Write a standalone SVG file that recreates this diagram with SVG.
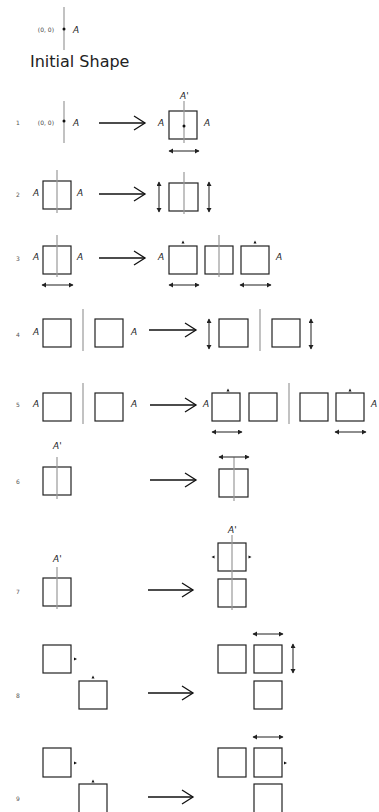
<svg xmlns="http://www.w3.org/2000/svg" width="379" height="812" viewBox="0 0 379 812">
<style>
text{font-family:"DejaVu Sans","Verdana",sans-serif;fill:#222}
.a{font-size:9px;font-style:italic}
.n{font-size:6px;fill:#555}
.o{font-size:6px;fill:#444;text-anchor:end}
.t{font-size:16px}
.sq{fill:none;stroke:#222;stroke-width:1.2}
.ax{stroke:#999;stroke-width:1.2}
.ar{stroke:#111;stroke-width:1.5;fill:none;marker-end:url(#chev)}
.da{stroke:#444;stroke-width:1.2;marker-start:url(#tip);marker-end:url(#tip)}
.tr{fill:#111}
</style>
<defs>
<marker id="chev" markerUnits="userSpaceOnUse" markerWidth="14" markerHeight="18" refX="12" refY="8" orient="auto">
<path d="M1,1 L12,8 L1,15" fill="none" stroke="#111" stroke-width="1.3"/>
</marker>
<marker id="tip" markerUnits="userSpaceOnUse" markerWidth="6" markerHeight="6" refX="4" refY="2.5" orient="auto-start-reverse">
<path d="M0,0 L4.5,2.5 L0,5 Z" fill="#222"/>
</marker>
</defs>

<g id="initial">
<line class="ax" x1="64" y1="7" x2="64" y2="50"/>
<circle cx="64" cy="29" r="1.5" fill="#111"/>
<text class="o" x="54" y="32">(0, 0)</text>
<text class="a" x="73" y="33">A</text>
<text class="t" x="30" y="67">Initial Shape</text>
</g>

<g id="row1">
<text class="n" x="16" y="125">1</text>
<text class="o" x="54" y="125">(0, 0)</text>
<line class="ax" x1="64" y1="101" x2="64" y2="143"/>
<circle cx="64" cy="121" r="1.5" fill="#111"/>
<text class="a" x="73" y="126">A</text>
<text class="a" x="158" y="126">A</text>
<rect class="sq" x="169" y="111" width="28" height="28"/>
<line class="ax" x1="184" y1="101" x2="184" y2="143"/>
<circle cx="184" cy="126" r="1.5" fill="#111"/>
<text class="a" x="204" y="126">A</text>
<text class="a" x="180" y="99">A'</text>
</g>

<g id="row2">
<text class="n" x="16" y="197">2</text>
<text class="a" x="33" y="196">A</text>
<rect class="sq" x="43" y="181" width="28" height="28"/>
<line class="ax" x1="57" y1="170" x2="57" y2="213"/>
<text class="a" x="77" y="196">A</text>
<rect class="sq" x="169" y="183" width="29" height="28"/>
<line class="ax" x1="184" y1="172" x2="184" y2="214"/>
</g>

<g id="row3">
<text class="n" x="16" y="261">3</text>
<text class="a" x="33" y="260">A</text>
<rect class="sq" x="43" y="246" width="28" height="28"/>
<line class="ax" x1="57" y1="235" x2="57" y2="277"/>
<text class="a" x="77" y="260">A</text>
<text class="a" x="158" y="260">A</text>
<rect class="sq" x="169" y="246" width="28" height="28"/>
<rect class="sq" x="205" y="246" width="28" height="28"/>
<rect class="sq" x="241" y="246" width="28" height="28"/>
<line class="ax" x1="219" y1="235" x2="219" y2="277"/>
<polygon class="tr" points="181.5,243.5 183,240.5 184.5,243.5"/>
<polygon class="tr" points="253.5,243.5 255,240.5 256.5,243.5"/>
<text class="a" x="276" y="260">A</text>
</g>

<g id="row4">
<text class="n" x="16" y="337">4</text>
<text class="a" x="33" y="335">A</text>
<rect class="sq" x="43" y="319" width="28" height="28"/>
<line class="ax" x1="83" y1="309" x2="83" y2="351"/>
<rect class="sq" x="95" y="319" width="28" height="28"/>
<text class="a" x="131" y="335">A</text>
<rect class="sq" x="219" y="319" width="29" height="28"/>
<line class="ax" x1="260" y1="309" x2="260" y2="351"/>
<rect class="sq" x="272" y="319" width="28" height="28"/>
</g>

<g id="row5">
<text class="n" x="16" y="407">5</text>
<text class="a" x="33" y="407">A</text>
<rect class="sq" x="43" y="393" width="28" height="28"/>
<line class="ax" x1="83" y1="383" x2="83" y2="424"/>
<rect class="sq" x="95" y="393" width="28" height="28"/>
<text class="a" x="131" y="407">A</text>
<text class="a" x="203" y="407">A</text>
<rect class="sq" x="212" y="393" width="28" height="28"/>
<polygon class="tr" points="226.5,391.5 228,388.5 229.5,391.5"/>
<rect class="sq" x="249" y="393" width="28" height="28"/>
<line class="ax" x1="289" y1="383" x2="289" y2="424"/>
<rect class="sq" x="300" y="393" width="28" height="28"/>
<rect class="sq" x="336" y="393" width="28" height="28"/>
<polygon class="tr" points="348.5,391.5 350,388.5 351.5,391.5"/>
<text class="a" x="371" y="407">A</text>
</g>

<g id="row6">
<text class="a" x="53" y="449">A'</text>
<text class="n" x="16" y="484">6</text>
<rect class="sq" x="43" y="467" width="28" height="28"/>
<line class="ax" x1="57" y1="457" x2="57" y2="499"/>
<rect class="sq" x="219" y="469" width="29" height="28"/>
<line class="ax" x1="234" y1="457" x2="234" y2="501"/>
</g>

<g id="row7">
<text class="a" x="53" y="562">A'</text>
<text class="n" x="16" y="594">7</text>
<rect class="sq" x="43" y="578" width="28" height="28"/>
<line class="ax" x1="57" y1="567" x2="57" y2="609"/>
<text class="a" x="228" y="533">A'</text>
<rect class="sq" x="218" y="543" width="28" height="28"/>
<rect class="sq" x="218" y="579" width="28" height="28"/>
<line class="ax" x1="232" y1="535" x2="232" y2="610"/>
<polygon class="tr" points="214.5,555.5 211.5,557 214.5,558.5"/>
<polygon class="tr" points="248.5,555.5 251.5,557 248.5,558.5"/>
</g>

<g id="row8">
<rect class="sq" x="43" y="645" width="28" height="28"/>
<polygon class="tr" points="74,657.5 77,659 74,660.5"/>
<rect class="sq" x="79" y="681" width="28" height="28"/>
<polygon class="tr" points="91.5,678.5 93,675.5 94.5,678.5"/>
<text class="n" x="16" y="698">8</text>
<rect class="sq" x="218" y="645" width="28" height="28"/>
<rect class="sq" x="254" y="645" width="28" height="28"/>
<rect class="sq" x="254" y="681" width="28" height="28"/>
</g>

<g id="row9">
<rect class="sq" x="43" y="748" width="28" height="29"/>
<polygon class="tr" points="74,761.5 77,763 74,764.5"/>
<rect class="sq" x="79" y="784" width="28" height="30"/>
<polygon class="tr" points="91.5,782.5 93,779.5 94.5,782.5"/>
<text class="n" x="16" y="801">9</text>
<rect class="sq" x="218" y="748" width="28" height="29"/>
<rect class="sq" x="254" y="748" width="28" height="29"/>
<polygon class="tr" points="284,761.5 287,763 284,764.5"/>
<rect class="sq" x="254" y="784" width="28" height="30"/>
</g>

<g id="connectors">
<line class="ar" x1="99" y1="123" x2="145" y2="123"/>
<line class="ar" x1="99" y1="194" x2="145" y2="194"/>
<line class="ar" x1="99" y1="258" x2="145" y2="258"/>
<line class="ar" x1="149" y1="330" x2="196" y2="330"/>
<line class="ar" x1="150" y1="405" x2="196" y2="405"/>
<line class="ar" x1="150" y1="480" x2="196" y2="480"/>
<line class="ar" x1="148" y1="590" x2="193" y2="590"/>
<line class="ar" x1="148" y1="693" x2="193" y2="693"/>
<line class="ar" x1="148" y1="797" x2="193" y2="797"/>
<line class="da" x1="169" y1="151" x2="199" y2="151"/>
<line class="da" x1="159" y1="182" x2="159" y2="212"/>
<line class="da" x1="209" y1="182" x2="209" y2="212"/>
<line class="da" x1="42" y1="285" x2="73" y2="285"/>
<line class="da" x1="169" y1="285" x2="199" y2="285"/>
<line class="da" x1="240" y1="285" x2="271" y2="285"/>
<line class="da" x1="209" y1="319" x2="209" y2="349"/>
<line class="da" x1="311" y1="319" x2="311" y2="349"/>
<line class="da" x1="212" y1="432" x2="242" y2="432"/>
<line class="da" x1="335" y1="432" x2="366" y2="432"/>
<line class="da" x1="219" y1="457" x2="249" y2="457"/>
<line class="da" x1="253" y1="634" x2="283" y2="634"/>
<line class="da" x1="293" y1="644" x2="293" y2="673"/>
<line class="da" x1="253" y1="737" x2="283" y2="737"/>
</g>
</svg>
